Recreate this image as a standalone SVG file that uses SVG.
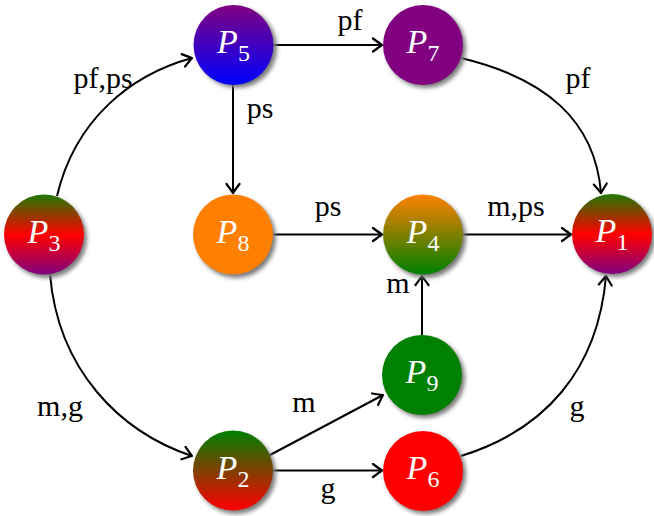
<svg xmlns="http://www.w3.org/2000/svg" width="654" height="516" viewBox="0 0 654 516">
<defs>
<style>
.nt{fill:#fff;font-size:34px;}
.nt .p{font-style:italic;}
.nt .s{font-size:24px;font-style:normal;}
.lb{fill:#000;font-size:30px;text-anchor:middle;}
.e{fill:none;stroke:#000;stroke-width:2;marker-end:url(#ah);}
.sh{fill:#7a7a7a;filter:url(#blur);}
</style>
<filter id="blur" x="-30%" y="-30%" width="160%" height="160%"><feGaussianBlur stdDeviation="2.2"/></filter>
<marker id="ah" viewBox="-11 -8 13 16" markerWidth="13" markerHeight="16" refX="0" refY="0" orient="auto" markerUnits="userSpaceOnUse">
<path d="M-9,-6.5 Q-3,-2 0,0 Q-3,2 -9,6.5" fill="none" stroke="#000" stroke-width="2.2" stroke-linecap="round" stroke-linejoin="round"/>
</marker>
<linearGradient id="gRP" x1="0" y1="0" x2="0" y2="1"><stop offset="0" stop-color="#1e7a00"/><stop offset="0.5" stop-color="#ff0000"/><stop offset="1" stop-color="#800080"/></linearGradient>
<linearGradient id="gPB" x1="0" y1="0" x2="0" y2="1"><stop offset="0" stop-color="#800080"/><stop offset="1" stop-color="#0000ff"/></linearGradient>
<linearGradient id="gOG" x1="0" y1="0" x2="0" y2="1"><stop offset="0" stop-color="#ff8000"/><stop offset="1" stop-color="#008000"/></linearGradient>
<linearGradient id="gGR" x1="0" y1="0" x2="0" y2="1"><stop offset="0" stop-color="#008000"/><stop offset="1" stop-color="#ff0000"/></linearGradient>
</defs>
<rect width="654" height="516" fill="#fff"/>
<g id="connectors">
<path class="e" d="M273,45 L382,45"/>
<path class="e" d="M233,85 L233,193"/>
<path class="e" d="M273,234.5 L382,234.5"/>
<path class="e" d="M463,234.5 L571,234.5"/>
<path class="e" d="M422,335 L422,276"/>
<path class="e" d="M270,455 L383,395"/>
<path class="e" d="M273,470.5 L382,470.5"/>
<path class="e" d="M57,196 C75,120 130,75 192,58"/>
<path class="e" d="M50,274 C58,370 120,432 192,456"/>
<path class="e" d="M461,58 C545,78 595,120 601,193"/>
<path class="e" d="M461,456 C545,430 598,370 606,276"/>
</g>
<g id="labels" font-family="Liberation Serif, Times New Roman, serif">
<text class="lb" x="350" y="30">pf</text>
<text class="lb" x="578" y="88">pf</text>
<text class="lb" x="103" y="88">pf,ps</text>
<text class="lb" x="260" y="118">ps</text>
<text class="lb" x="328" y="216">ps</text>
<text class="lb" x="516" y="216">m,ps</text>
<text class="lb" x="398" y="293">m</text>
<text class="lb" x="60" y="416">m,g</text>
<text class="lb" x="304" y="412">m</text>
<text class="lb" x="328" y="498">g</text>
<text class="lb" x="577" y="416">g</text>
</g>
<g id="nodes" font-family="Liberation Serif, Times New Roman, serif">
<g id="P5"><circle class="sh" cx="237" cy="48" r="40"/><circle cx="233.5" cy="45" r="40" fill="url(#gPB)"/><text class="nt" x="233.5" y="53" text-anchor="middle"><tspan class="p">P</tspan><tspan class="s" dy="8">5</tspan></text></g>
<g id="P7"><circle class="sh" cx="426" cy="48" r="40"/><circle cx="423" cy="45" r="40" fill="#800080"/><text class="nt" x="423" y="53" text-anchor="middle"><tspan class="p">P</tspan><tspan class="s" dy="8">7</tspan></text></g>
<g id="P3"><circle class="sh" cx="47" cy="238" r="40"/><circle cx="44" cy="234.5" r="40" fill="url(#gRP)"/><text class="nt" x="44" y="242.5" text-anchor="middle"><tspan class="p">P</tspan><tspan class="s" dy="8">3</tspan></text></g>
<g id="P8"><circle class="sh" cx="236" cy="238" r="40"/><circle cx="233" cy="234.5" r="40" fill="#ff8000"/><text class="nt" x="233" y="242.5" text-anchor="middle"><tspan class="p">P</tspan><tspan class="s" dy="8">8</tspan></text></g>
<g id="P4"><circle class="sh" cx="426" cy="238" r="40"/><circle cx="423" cy="234.5" r="40" fill="url(#gOG)"/><text class="nt" x="423" y="242.5" text-anchor="middle"><tspan class="p">P</tspan><tspan class="s" dy="8">4</tspan></text></g>
<g id="P1"><circle class="sh" cx="615" cy="237" r="40"/><circle cx="612" cy="234" r="40" fill="url(#gRP)"/><text class="nt" x="612" y="242" text-anchor="middle"><tspan class="p">P</tspan><tspan class="s" dy="8">1</tspan></text></g>
<g id="P9"><circle class="sh" cx="425" cy="378" r="40"/><circle cx="422" cy="375" r="40" fill="#008000"/><text class="nt" x="422" y="383" text-anchor="middle"><tspan class="p">P</tspan><tspan class="s" dy="8">9</tspan></text></g>
<g id="P2"><circle class="sh" cx="236" cy="474" r="40"/><circle cx="233" cy="470.5" r="40" fill="url(#gGR)"/><text class="nt" x="233" y="478.5" text-anchor="middle"><tspan class="p">P</tspan><tspan class="s" dy="8">2</tspan></text></g>
<g id="P6"><circle class="sh" cx="426" cy="474" r="40"/><circle cx="423" cy="471" r="40" fill="#ff0000"/><text class="nt" x="423" y="479" text-anchor="middle"><tspan class="p">P</tspan><tspan class="s" dy="8">6</tspan></text></g>
</g>
</svg>
